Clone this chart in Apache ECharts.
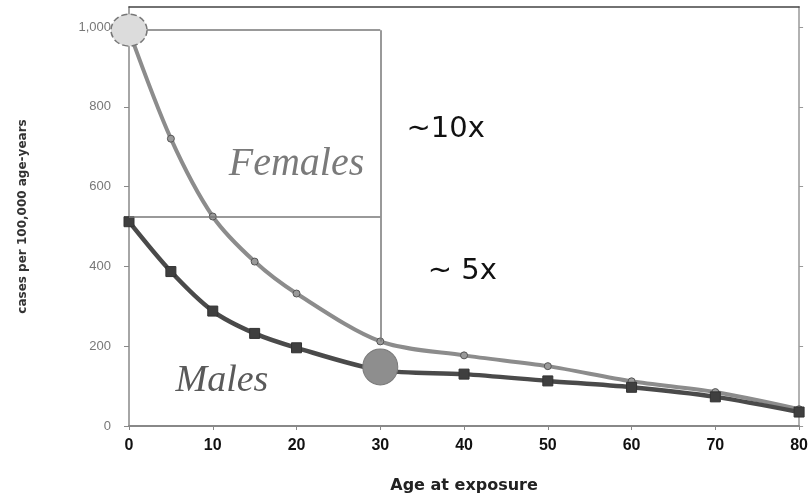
<!DOCTYPE html>
<html>
<head>
<meta charset="utf-8">
<script src="https://cdn.jsdelivr.net/npm/echarts@6/dist/echarts.min.js"></script>
<style>html,body{margin:0;padding:0;background:#fff;}#c{width:811px;height:499px;}</style>
</head>
<body>
<div id="c"></div>
<script>
var ages = [0, 5, 10, 15, 20, 30, 40, 50, 60, 70, 80];
var females = [990, 720, 525, 412, 332, 212, 177, 150, 112, 85, 42];
var males = [512, 387, 288, 232, 196, 140, 130, 113, 97, 73, 35];
var yTicks = [0, 200, 400, 600, 800, 1000];
var guideX = 30;
var guideTop = 992;
var guideMid = 525;
var femaleAt30 = 212;
var circleF = [0, 992];
var circleM = [30, 148];
var labelsText = [
  {text: 'Females', x: 20, y: 655},
  {text: 'Males', x: 11.1, y: 112},
  {text: '~10x', x: 37.8, y: 742},
  {text: '~ 5x', x: 39.8, y: 387}
];

function pairs(xs, ys) { return xs.map(function (x, i) { return [x, ys[i]]; }); }

var chart = echarts.init(document.getElementById('c'));
var textStyles = [
  {fontFamily: 'Liberation Serif', fontStyle: 'italic', fontSize: 40, color: '#7a7a7a'},
  {fontFamily: 'Liberation Serif', fontStyle: 'italic', fontSize: 38, color: '#5a5a5a'},
  {fontFamily: 'DejaVu Sans', fontSize: 29, color: '#111'},
  {fontFamily: 'DejaVu Sans', fontSize: 29, color: '#111'}
];
var textPoints = labelsText.map(function (t, i) {
  return {
    coord: [t.x, t.y], symbol: 'circle', symbolSize: 0,
    label: Object.assign({show: true, position: 'inside', formatter: t.text}, textStyles[i])
  };
});

chart.setOption({
  animation: false,
  grid: {left: 129, right: 11, top: 7, bottom: 72},
  xAxis: [{
    type: 'value', min: 0, max: 80, interval: 10,
    name: 'Age at exposure', nameLocation: 'middle', nameGap: 52,
    nameTextStyle: {fontFamily: 'DejaVu Sans', fontWeight: 'bold', fontSize: 16, color: '#222'},
    axisLine: {lineStyle: {color: '#888', width: 2}},
    axisTick: {show: true, length: 4, lineStyle: {color: '#888'}},
    axisLabel: {fontFamily: 'Liberation Sans', fontWeight: 'bold', fontSize: 16, color: '#111', margin: 12},
    splitLine: {show: false}
  }, {
    type: 'value', min: 0, max: 80, position: 'top',
    axisLine: {show: true, onZero: false, lineStyle: {color: '#444', width: 1.5}},
    axisTick: {show: false}, axisLabel: {show: false}, splitLine: {show: false}
  }],
  yAxis: [{
    type: 'value', min: 0, max: 1050,
    name: 'cases per 100,000 age-years', nameLocation: 'middle', nameGap: 100,
    nameTextStyle: {fontFamily: 'DejaVu Sans', fontWeight: 'bold', fontSize: 12, color: '#333'},
    axisLine: {show: true, lineStyle: {color: '#888', width: 1.5}},
    axisTick: {show: true, length: 5, customValues: yTicks, lineStyle: {color: '#888'}},
    axisLabel: {customValues: yTicks, fontFamily: 'Liberation Sans', fontSize: 13, color: '#777', margin: 18,
      formatter: function (v) { return v.toLocaleString('en-US'); }},
    splitLine: {show: false}
  }, {
    type: 'value', min: 0, max: 1050, position: 'right',
    axisLine: {show: true, onZero: false, lineStyle: {color: '#999', width: 1.5}},
    axisTick: {show: true, length: 4, customValues: yTicks, lineStyle: {color: '#999'}},
    axisLabel: {show: false}, splitLine: {show: false}
  }],
  series: [{
    name: 'Females', type: 'line', smooth: 0.3,
    data: pairs(ages, females),
    lineStyle: {color: '#8c8c8c', width: 4},
    itemStyle: {color: '#9a9a9a', borderColor: '#555', borderWidth: 1},
    symbol: 'circle', symbolSize: 7, z: 3,
    markLine: {
      silent: true, symbol: ['none', 'none'], label: {show: false},
      lineStyle: {color: '#777', width: 1.5, type: 'solid'},
      data: [
        [{coord: [0, guideTop]}, {coord: [guideX, guideTop]}],
        [{coord: [guideX, guideTop]}, {coord: [guideX, femaleAt30]}],
        [{coord: [0, guideMid]}, {coord: [guideX, guideMid]}]
      ]
    },
    markPoint: {
      silent: true,
      data: [{
        coord: circleF, symbol: 'circle', symbolSize: [36, 32],
        itemStyle: {color: '#dcdcdc', borderColor: '#777', borderWidth: 1.5, borderType: 'dashed'},
        label: {show: false}
      }].concat(textPoints)
    }
  }, {
    name: 'Males', type: 'line', smooth: 0.3,
    data: pairs(ages, males),
    lineStyle: {color: '#4a4a4a', width: 4.5},
    itemStyle: {color: '#3f3f3f', borderColor: '#333', borderWidth: 1},
    symbol: 'rect', symbolSize: 10, z: 4,
    markPoint: {
      silent: true,
      data: [{
        coord: circleM, symbol: 'circle', symbolSize: [35, 36],
        itemStyle: {color: '#8e8e8e', borderColor: '#7a7a7a', borderWidth: 1},
        label: {show: false}
      }]
    }
  }]
});
</script>
</body>
</html>
